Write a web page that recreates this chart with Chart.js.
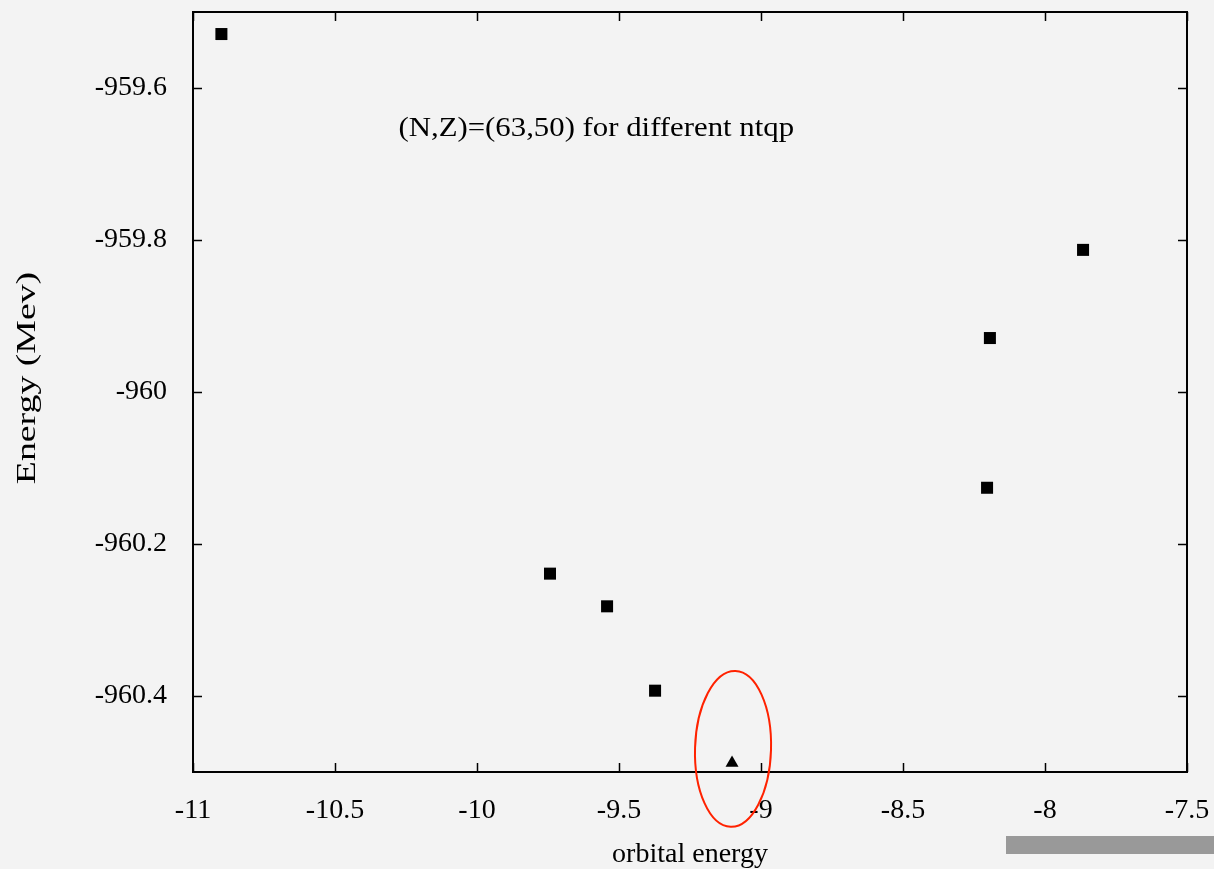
<!DOCTYPE html>
<html>
<head>
<meta charset="utf-8">
<script src="https://cdn.jsdelivr.net/npm/chart.js@4/dist/chart.umd.min.js"></script>
<style>
  html, body { margin: 0; padding: 0; background: #f3f3f3; }
  #wrap { position: relative; width: 1214px; height: 869px; }
  canvas { display: block; }
  #bar { position: absolute; left: 1006px; top: 836px; width: 208px; height: 18px; background: #999; }
</style>
</head>
<body>
<div id="wrap">
  <canvas id="scatterChart" width="1214" height="869"></canvas>
  <div id="bar"></div>
</div>
<script>
// orbital energy vs total energy, squares = ntqp runs
const orbitalEnergy = [-10.90, -7.866, -8.194, -8.204, -9.743, -9.542, -9.373];
const totalEnergy = [-959.529, -959.813, -959.929, -960.126, -960.239, -960.282, -960.393];
// the circled point
const markedX = [-9.102];
const markedY = [-960.488];

const xTicks = [-11, -10.5, -10, -9.5, -9, -8.5, -8, -7.5];
const yTicks = [-960.4, -960.2, -960, -959.8, -959.6];

const serif = "'Liberation Serif', 'Times New Roman', serif";

// frame + inward ticks on all four sides, plus the note, y title and the red ellipse
const framePlugin = {
  id: 'frame',
  afterDraw(chart) {
    const { ctx, chartArea: a, scales: { x, y } } = chart;
    ctx.save();
    ctx.strokeStyle = '#000';
    ctx.lineWidth = 2;
    ctx.strokeRect(a.left, a.top, a.right - a.left, a.bottom - a.top);
    ctx.lineWidth = 1.5;
    ctx.beginPath();
    xTicks.forEach(v => {
      const px = Math.round(x.getPixelForValue(v)) + 0.5;
      ctx.moveTo(px, a.bottom); ctx.lineTo(px, a.bottom - 9);
      ctx.moveTo(px, a.top); ctx.lineTo(px, a.top + 9);
    });
    yTicks.forEach(v => {
      const py = Math.round(y.getPixelForValue(v)) + 0.5;
      ctx.moveTo(a.left, py); ctx.lineTo(a.left + 9, py);
      ctx.moveTo(a.right, py); ctx.lineTo(a.right - 9, py);
    });
    ctx.stroke();

    ctx.fillStyle = '#000';
    ctx.font = '28px ' + serif;
    ctx.textAlign = 'center';
    ctx.textBaseline = 'middle';
    const tx = x.getPixelForValue(-9.58), ty = y.getPixelForValue(-959.653);
    ctx.translate(tx, ty);
    ctx.scale(1.1, 1);
    ctx.fillText('(N,Z)=(63,50) for different ntqp', 0, 0);
    ctx.setTransform(1, 0, 0, 1, 0, 0);

    // y axis title, stretched like the original
    ctx.translate(28, 378);
    ctx.rotate(-Math.PI / 2);
    ctx.scale(1.35, 1);
    ctx.fillText('Energy (Mev)', 0, 0);
    ctx.setTransform(1, 0, 0, 1, 0, 0);

    const pt = chart.getDatasetMeta(1).data[0];
    ctx.strokeStyle = '#ff2200';
    ctx.lineWidth = 2;
    ctx.beginPath();
    ctx.ellipse(pt.x + 1, pt.y - 14, 38, 78, 0.03, 0, Math.PI * 2);
    ctx.stroke();
    ctx.restore();
  }
};

new Chart(document.getElementById('scatterChart'), {
  type: 'scatter',
  data: {
    datasets: [{
      label: 'ntqp',
      data: orbitalEnergy.map((v, i) => ({ x: v, y: totalEnergy[i] })),
      pointStyle: 'rect',
      pointRadius: 8.5,
      backgroundColor: '#000',
      borderWidth: 0
    }, {
      label: 'marked',
      data: markedX.map((v, i) => ({ x: v, y: markedY[i] })),
      pointStyle: 'triangle',
      pointRadius: 7.5,
      backgroundColor: '#000',
      borderWidth: 0
    }]
  },
  options: {
    responsive: false,
    animation: false,
    layout: { padding: { top: 12, right: 27, left: 0, bottom: 0 } },
    plugins: { legend: { display: false }, tooltip: { enabled: false } },
    scales: {
      x: {
        min: -11, max: -7.5,
        afterBuildTicks: s => { s.ticks = xTicks.map(v => ({ value: v })); },
        afterFit: s => { s.height = 97; s.paddingLeft = 0; s.paddingRight = 0; },
        grid: { display: false },
        border: { display: false },
        ticks: {
          color: '#000', padding: 14, maxRotation: 0, autoSkip: false,
          font: { family: serif, size: 28 },
          callback: v => String(v)
        },
        title: {
          display: true, text: 'orbital energy', color: '#000',
          font: { family: serif, size: 28 }, padding: { top: 0, bottom: -2 }
        }
      },
      y: {
        min: -960.5, max: -959.5,
        afterBuildTicks: s => { s.ticks = yTicks.map(v => ({ value: v })); },
        afterFit: s => { s.width = 193; s.paddingTop = 0; s.paddingBottom = 0; },
        grid: { display: false },
        border: { display: false },
        ticks: {
          color: '#000', padding: 18, autoSkip: false,
          font: { family: serif, size: 28 },
          callback: v => String(v)
        },
        title: { display: false }
      }
    }
  },
  plugins: [framePlugin]
});
</script>
</body>
</html>
